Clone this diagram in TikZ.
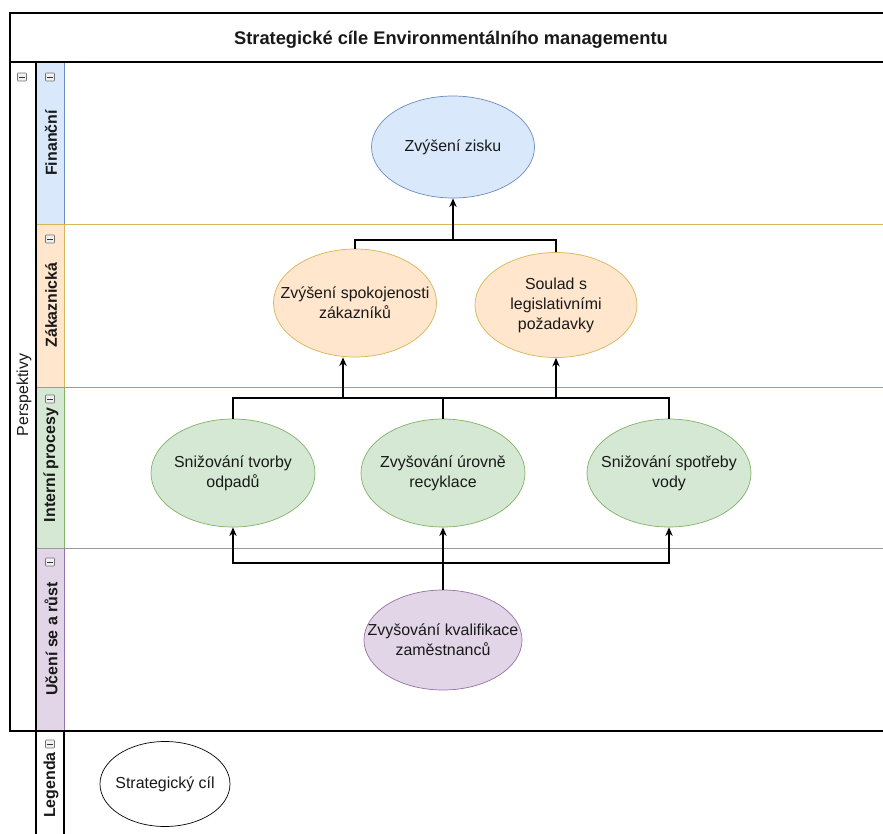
\documentclass[tikz,border=0pt]{standalone}
\usepackage{fontspec}
\setmainfont{Liberation Sans}
\usetikzlibrary{shapes.geometric,arrows.meta}

\definecolor{finFill}{HTML}{DAE8FC}
\definecolor{finLine}{HTML}{6C8EBF}
\definecolor{zakFill}{HTML}{FFE6CC}
\definecolor{zakLine}{HTML}{D6B656}
\definecolor{intFill}{HTML}{D5E8D4}
\definecolor{intLine}{HTML}{82B366}
\definecolor{uceFill}{HTML}{E1D5E7}
\definecolor{uceLine}{HTML}{9673A6}
\definecolor{sepGray}{HTML}{9A9A9A}

\begin{document}
\begin{tikzpicture}[x=0.03cm, y=-0.03cm,
  txt/.style={font=\fontsize{13.6}{17}\selectfont, text=black!90},
  goaltext/.style={txt, align=center, inner sep=0pt},
  goal/.style 2 args={ellipse, draw, line width=0.6pt,
    inner sep=0pt, minimum width=#1*0.03cm, minimum height=#2*0.03cm},
  lanelabel/.style={rotate=90, font=\fontsize{13.6}{17}\selectfont\bfseries, text=black!90},
  frame/.style={line width=2.3pt, black},
  conn/.style={line width=1.2pt, black},
  arr/.style={conn, -{Stealth[length=2.6mm, width=2.2mm]}},
  collapse/.pic={
    \draw[black!55, fill=black!6, line width=0.5pt, rounded corners=0.6pt] (-4.5,-4) rectangle (4.5,4);
    \draw[black!80, line width=0.7pt] (-2.6,0) -- (2.6,0);
  }]

% canvas
\useasboundingbox (0,0) rectangle (883,834);
\fill[white] (0,0) rectangle (883,834);

% lane label strips
\fill[finFill] (36,62) rectangle (64,224);
\fill[zakFill] (36,224) rectangle (64,387);
\fill[intFill] (36,387) rectangle (64,548);
\fill[uceFill] (36,548) rectangle (64,731);

% lane separators
\draw[zakLine, line width=0.7pt] (36,224) -- (883,224);
\draw[intLine, line width=0.7pt] (36,387) -- (883,387);
\draw[sepGray, line width=0.7pt] (36,548) -- (883,548);

% right edges of the label strips
\draw[finLine, line width=0.6pt] (64,62) -- (64,224);
\draw[zakLine, line width=0.6pt] (64,224) -- (64,387);
\draw[intLine, line width=0.6pt] (64,387) -- (64,548);
\draw[uceLine, line width=0.6pt] (64,548) -- (64,731);

% pool frame
\draw[frame] (883,13) -- (10,13) -- (10,731) -- (883,731);
\draw[frame] (10,62) -- (883,62);
\draw[frame] (36,62) -- (36,834);
\draw[frame] (64,731) -- (64,834);

% headings
\node[font=\fontsize{15.6}{18}\selectfont\bfseries, text=black!90] (title) at (451,40)
  {Strategické cíle Environmentálního managementu};
\node[rotate=90, txt] (persp) at (24,395) {Perspektivy};
\node[lanelabel] (lfin) at (51,143) {Finanční};
\node[lanelabel] (lzak) at (51,305) {Zákaznická};
\node[lanelabel] (lint) at (51,465) {Interní procesy};
\node[lanelabel] (luce) at (51,639) {Učení se a růst};
\node[lanelabel] (lleg) at (51,785) {Legenda};

% collapse markers
\pic at (22,77) {collapse};
\pic at (50,77) {collapse};
\pic at (50,239) {collapse};
\pic at (50,399) {collapse};
\pic at (50,562) {collapse};
\pic at (50,744) {collapse};

% strategic goals (fixed-size ellipses, text set as a centred label)
\node[goal={163}{102}, fill=finFill, draw=finLine,
  label={[goaltext]center:Zvýšení zisku}] (zisk) at (453,147) {};
\node[goal={163}{108}, fill=zakFill, draw=zakLine,
  label={[goaltext]center:Zvýšení spokojenosti\\zákazníků}] (spok) at (355,303) {};
\node[goal={162}{105}, fill=zakFill, draw=zakLine,
  label={[goaltext]center:Soulad s\\legislativními\\požadavky}] (soul) at (556,305) {};
\node[goal={164}{108}, fill=intFill, draw=intLine,
  label={[goaltext]center:Snižování tvorby\\odpadů}] (odp) at (233,473) {};
\node[goal={164}{108}, fill=intFill, draw=intLine,
  label={[goaltext]center:Zvyšování úrovně\\recyklace}] (rec) at (443,473) {};
\node[goal={164}{108}, fill=intFill, draw=intLine,
  label={[goaltext]center:Snižování spotřeby\\vody}] (vody) at (669,473) {};
\node[goal={158}{100}, fill=uceFill, draw=uceLine,
  label={[goaltext]center:Zvyšování kvalifikace\\zaměstnanců}] (kval) at (443,640) {};
\node[goal={130}{85}, fill=white, draw=black,
  label={[goaltext]center:Strategický cíl}] (leg) at (165,784) {};

% junctions of the connectors
\coordinate (busTop) at (453,240);
\coordinate (busMid) at (443,398);
\coordinate (spokIn) at (343,398);
\coordinate (busLow) at (443,563);

% customer goals -> profit
\draw[conn] (spok.north) |- (busTop);
\draw[conn] (soul.north) |- (busTop);
\draw[arr] (busTop) -- (zisk.south);

% internal processes -> customer goals
\draw[conn] (odp.north) |- (busMid);
\draw[conn] (vody.north) |- (busMid);
\draw[conn] (rec.north) -- (busMid);
\draw[arr] (spokIn) -- (spokIn |- spok.south);
\draw[arr] (busMid -| soul.south) -- (soul.south);

% learning -> internal processes
\draw[conn] (kval.north) -- (busLow);
\draw[arr] (busLow) -| (odp.south);
\draw[arr] (busLow) -| (vody.south);
\draw[arr] (kval.north) -- (rec.south);
\end{tikzpicture}
\end{document}
